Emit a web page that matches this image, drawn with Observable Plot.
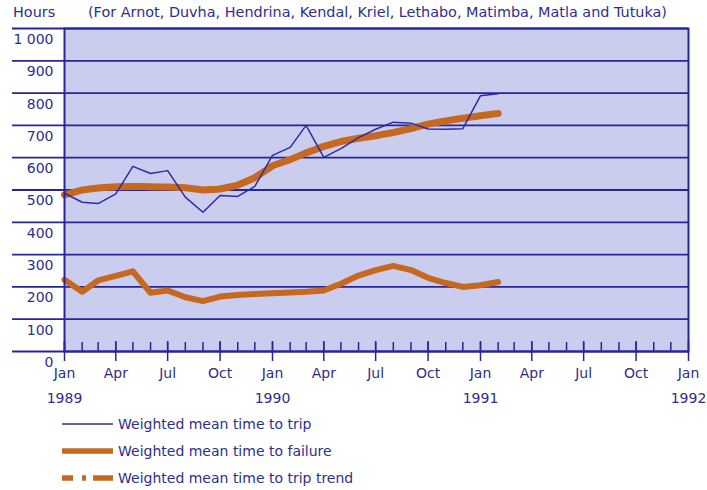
<!DOCTYPE html>
<html><head><meta charset="utf-8">
<script src="https://cdn.jsdelivr.net/npm/d3@7"></script>
<script src="https://cdn.jsdelivr.net/npm/@observablehq/plot@0.6"></script>
<style>
body{margin:0;background:#fff;font-family:"DejaVu Sans",Arial,sans-serif;color:#2e2e8e;}
#wrap{position:relative;width:707px;height:490px;overflow:hidden;}
#head{position:absolute;left:13px;top:4px;font-size:14.4px;white-space:nowrap;}
#head .sub{position:absolute;left:75px;top:0;}
#chart{position:absolute;left:0;top:0;}
#legend{position:absolute;left:0;top:410px;}
.row{display:flex;align-items:center;height:27px;font-size:14px;white-space:nowrap;}
.row svg{margin-left:62px;margin-right:5px;}
</style></head><body>
<div id="wrap">
<div id="chart"></div>
<div id="head"><span>Hours</span><span class="sub">(For Arnot, Duvha, Hendrina, Kendal, Kriel, Lethabo, Matimba, Matla and Tutuka)</span></div>
<div id="legend"></div>
</div>
<script>
// ---- data ----
const months = ["1989-01","1989-02","1989-03","1989-04","1989-05","1989-06","1989-07","1989-08","1989-09","1989-10","1989-11","1989-12",
                "1990-01","1990-02","1990-03","1990-04","1990-05","1990-06","1990-07","1990-08","1990-09","1990-10","1990-11","1990-12",
                "1991-01","1991-02"];
const timeToTrip    = [490,462,458,488,573,551,560,478,431,483,480,511,607,632,700,601,628,662,688,710,707,689,688,690,792,798];
const timeToFailure = [222,185,220,234,248,182,189,168,156,170,175,178,180,183,185,189,210,235,252,265,252,228,212,200,205,215];
const tripTrend     = [485,500,506,510,511,510,509,507,500,503,515,538,575,594,615,635,650,660,668,678,690,704,714,722,730,737];
const seriesNames = ["Weighted mean time to trip","Weighted mean time to failure","Weighted mean time to trip trend"];
const yTicks = [0,100,200,300,400,500,600,700,800,900,1000];
const quarterLabels = ["Jan","Apr","Jul","Oct"];
const yearLabels = ["1989","1990","1991","1992"];
const xDomain = ["1989-01","1992-01"];

// ---- styles ----
const NAVY = "#26269a", BG = "#cbcdef", ORANGE = "#c66820", BLUE = "#2c2ca6", TEXT = "#2e2e8e";
const W = 707, H = 410, MT = 28, MB = 59, ML = 64, MR = 19;
const PH = H - MT - MB;
const FONT = '"DejaVu Sans", Arial, sans-serif';

const parse = d3.utcParse("%Y-%m");
const data = months.map((m, i) => ({date: parse(m), trip: timeToTrip[i], failure: timeToFailure[i], trend: tripTrend[i]}));
const x0 = parse(xDomain[0]), x1 = parse(xDomain[1]);
const monthTicks = d3.utcMonth.range(x0, x1);
const quarterTicks = d3.utcMonth.every(3).range(x0, d3.utcDay.offset(x1, 1));
const yearTicks = yearLabels.map(y => parse(y + "-01"));

const chart = Plot.plot({
  width: W, height: H, marginTop: MT, marginBottom: MB, marginLeft: ML, marginRight: MR,
  style: {fontFamily: FONT, fontSize: "14px", color: TEXT, background: "transparent", overflow: "visible"},
  x: {type: "utc", domain: [x0, x1], label: null},
  y: {domain: [0, 1000], label: null},
  marks: [
    Plot.frame({fill: BG, stroke: null}),
    Plot.tickY(yTicks, {y: d => d, insetLeft: -52, stroke: NAVY, strokeWidth: 1.8}),
    Plot.axisY(yTicks, {tickSize: 0, tickPadding: 11, dy: 11, fontSize: 14,
      tickFormat: d => d3.format(",")(d).replace(",", " ")}),
    Plot.tickX(monthTicks, {x: d => d, insetTop: PH - 9, stroke: NAVY, strokeWidth: 1.5}),
    Plot.tickX(quarterTicks, {x: d => d, insetTop: PH - 10, insetBottom: -10, stroke: NAVY, strokeWidth: 1.5}),
    Plot.axisX(quarterTicks, {tickSize: 0, tickPadding: 17, fontSize: 14, label: null,
      tickFormat: d => quarterLabels[d.getUTCMonth() / 3]}),
    Plot.axisX(yearTicks, {tickSize: 0, tickPadding: 42, fontSize: 14, label: null,
      tickFormat: d => yearLabels[yearTicks.findIndex(t => +t === +d)]}),
    Plot.lineY(data, {x: "date", y: "failure", stroke: ORANGE, strokeWidth: 6, strokeLinejoin: "round"}),
    Plot.lineY(data, {x: "date", y: "trend", stroke: ORANGE, strokeWidth: 7, strokeDasharray: "18,1.5,5,1.5", strokeLinejoin: "round"}),
    Plot.lineY(data, {x: "date", y: "trip", stroke: BLUE, strokeWidth: 1.5, strokeLinejoin: "round"}),
    Plot.frame({stroke: NAVY, strokeWidth: 2, fill: null})
  ]
});
document.getElementById("chart").append(chart);

// ---- legend ----
const legendStyles = [
  {stroke: BLUE, width: 1.5, dash: null},
  {stroke: ORANGE, width: 5.5, dash: null},
  {stroke: ORANGE, width: 5.5, dash: "11,9,4,7,20"}
];
const legend = document.getElementById("legend");
seriesNames.forEach((name, i) => {
  const s = legendStyles[i];
  const row = document.createElement("div");
  row.className = "row";
  row.innerHTML = `<svg width="51" height="12"><line x1="0" x2="51" y1="6" y2="6" stroke="${s.stroke}" stroke-width="${s.width}" ${s.dash ? `stroke-dasharray="${s.dash}"` : ""}/></svg><span>${name}</span>`;
  legend.append(row);
});
</script>
</body></html>
